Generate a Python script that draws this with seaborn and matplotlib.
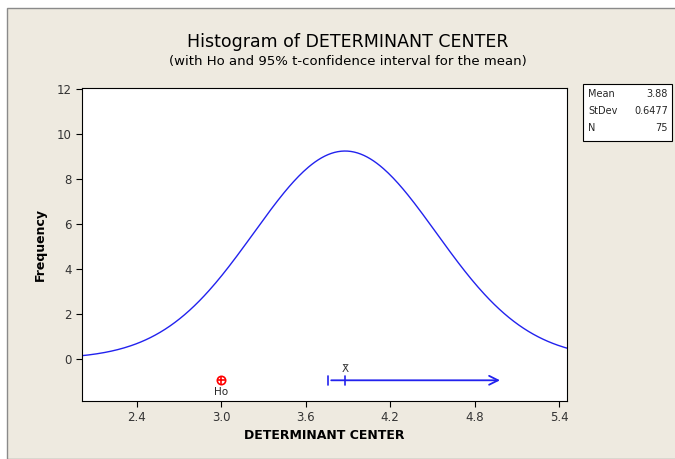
import numpy as np
import pandas as pd
import matplotlib
matplotlib.use("Agg")
import matplotlib.pyplot as plt
import seaborn as sns
from matplotlib.patches import Rectangle

# summary stats shown in the box
mean = 3.88
stdev = 0.6477
n = 75
bin_width = 0.2          # implied by curve height (~9.2 at the mean)
h0 = 3.0
ci_lower = 3.762         # one-sided 95% t lower bound
ci_arrow_end = 5.0
ci_y = -0.95

x_ticks = [2.4, 3.0, 3.6, 4.2, 4.8, 5.4]
y_ticks = [0, 2, 4, 6, 8, 10, 12]

# fitted normal curve from mean / stdev / N
xs = np.linspace(2.0, 5.46, 300)
ys = n * bin_width * np.exp(-0.5 * ((xs - mean) / stdev) ** 2) / (stdev * np.sqrt(2 * np.pi))
curve = pd.DataFrame({"x": xs, "y": ys})

sns.set_style("white")
plt.rcParams['font.family'] = ['DejaVu Sans']

bg = "#EEEAE0"
fig = plt.figure(figsize=(6.75, 4.59), dpi=100, facecolor="white")
fig.patches.append(Rectangle((7 / 675, 0), 1, 1 - 8 / 459, transform=fig.transFigure,
                             facecolor=bg, edgecolor="#8a8a8a", lw=1, zorder=-10))
ax = fig.add_axes([82 / 675, (459 - 401) / 459, (567 - 82) / 675, (401 - 88) / 459])
ax.set_facecolor("white")

sns.lineplot(data=curve, x="x", y="y", ax=ax, color="#2222ee", lw=1)

# Ho marker
ax.plot(h0, ci_y, marker="o", ms=6, mfc="none", mec="red", mew=1.2)
ax.plot(h0, ci_y, marker="+", ms=6, color="red", mew=1.2)
ax.text(h0, ci_y - 0.3, "Ho", ha="center", va="top", fontsize=7.5)

# confidence interval
ax.annotate("", xy=(ci_arrow_end, ci_y), xytext=(ci_lower, ci_y),
            arrowprops=dict(arrowstyle="->", color="#2222ee", lw=1.3, mutation_scale=16))
ax.plot([ci_lower, ci_lower], [ci_y - 0.2, ci_y + 0.2], color="#2222ee", lw=1.2)
ax.plot([mean, mean], [ci_y - 0.2, ci_y + 0.2], color="#2222ee", lw=1.2)
ax.text(mean, ci_y + 0.3, "X\u0304", ha="center", va="bottom", fontsize=7.5, color="#333333")

ax.set_xlim(2.012, 5.456)
ax.set_ylim(-1.87, 12.04)
ax.set_xticks(x_ticks)
ax.set_xticklabels([f"{t:.1f}" for t in x_ticks], fontsize=8.5, color="#333333")
ax.set_yticks(y_ticks)
ax.set_yticklabels([str(t) for t in y_ticks], fontsize=8.5, color="#333333")
ax.tick_params(direction="out", length=4, width=0.8, color="black", bottom=True, left=True)
for s in ax.spines.values():
    s.set_color("black")
    s.set_linewidth(0.8)

ax.set_xlabel("DETERMINANT CENTER", fontsize=9, fontweight="bold", labelpad=3, color="black")
ax.set_ylabel("Frequency", fontsize=9, fontweight="bold", labelpad=7, color="black")

fig.text(348 / 675, 1 - 42 / 459, "Histogram of DETERMINANT CENTER", ha="center", va="center",
         fontsize=12.5, color="black")
fig.text(348 / 675, 1 - 62 / 459, "(with Ho and 95% t-confidence interval for the mean)",
         ha="center", va="center", fontsize=9.5, color="black")

# stats box
bx0, by0, bx1, by1 = 583, 84, 672, 141
fig.patches.append(Rectangle((bx0 / 675, 1 - by1 / 459), (bx1 - bx0) / 675, (by1 - by0) / 459,
                             transform=fig.transFigure, facecolor="white", edgecolor="black", lw=0.8))
rows = [("Mean", "3.88"), ("StDev", "0.6477"), ("N", "75")]
for i, (k, v) in enumerate(rows):
    yy = 1 - (94 + i * 17) / 459
    fig.text(588 / 675, yy, k, ha="left", va="center", fontsize=7)
    fig.text(668 / 675, yy, v, ha="right", va="center", fontsize=7)

fig.savefig("out.png", dpi=100, facecolor=fig.get_facecolor())
